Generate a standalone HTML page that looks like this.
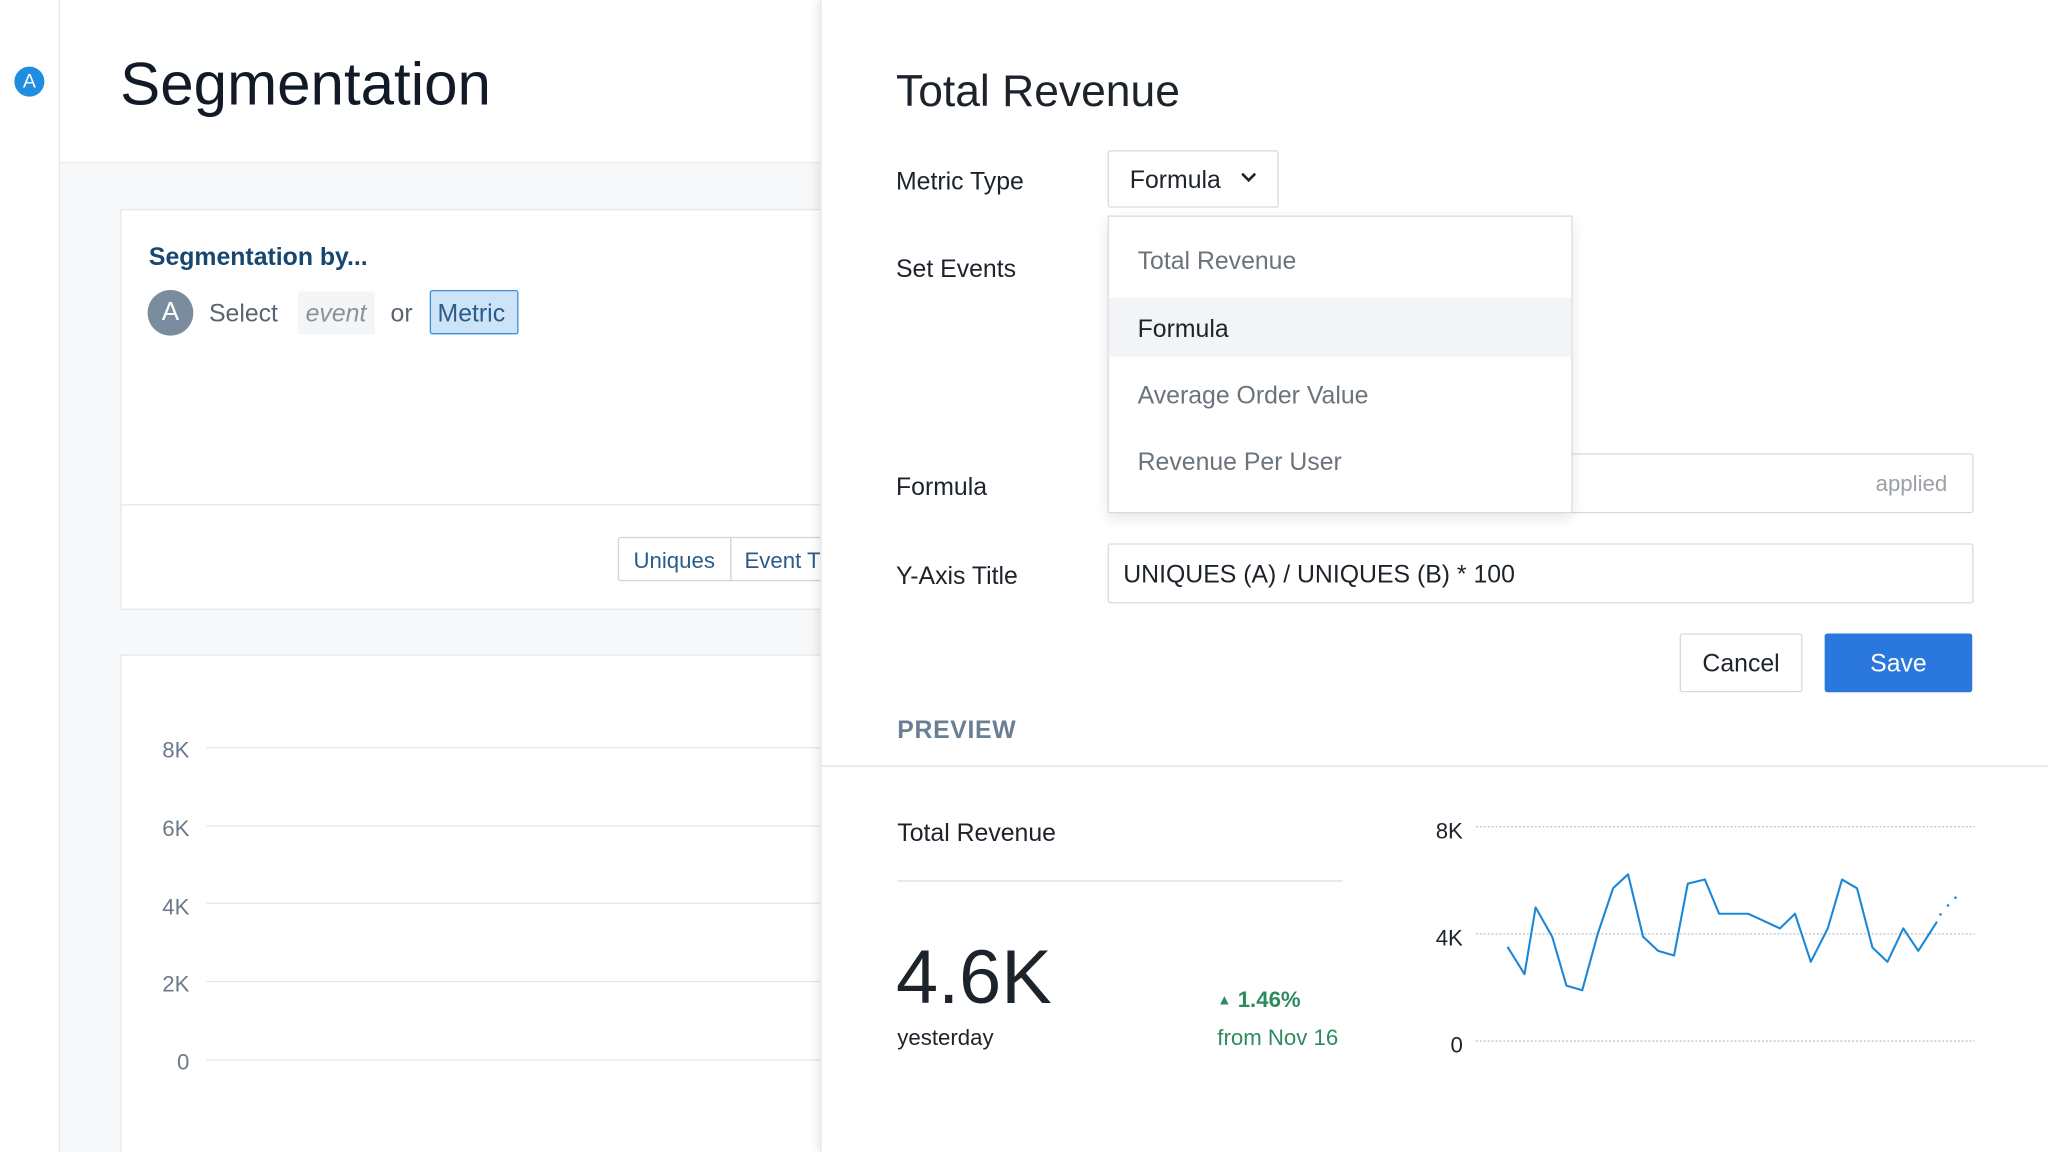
<!DOCTYPE html>
<html><head><meta charset="utf-8"><style>
html,body{margin:0;padding:0;width:2048px;height:1152px;overflow:hidden;background:#fff}
#s{position:absolute;left:0;top:0;width:1568px;height:882px;transform:scale(1.306122);transform-origin:0 0;font-family:"Liberation Sans",sans-serif;background:#f7f8f9;overflow:hidden}
.a{position:absolute;white-space:nowrap}
.t{position:absolute;white-space:nowrap;line-height:30px;height:30px;margin-top:2px}
</style></head><body><div id="s">
<div class="a" style="left:0;top:0;width:45px;height:882px;background:#fff;border-right:1px solid #e6e8eb"></div>
<div class="a" style="left:11px;top:51px;width:23px;height:23px;border-radius:50%;background:#1f8de0;color:#fff;font-size:15px;line-height:23px;text-align:center">A</div>
<div class="a" style="left:46px;top:0;width:600px;height:124px;background:#fff;border-bottom:1px solid #e9ebee"></div>
<div class="a" style="left:92px;top:36px;font-size:46px;line-height:56px;color:#111a26;font-weight:500">Segmentation</div>
<div class="a" style="left:92px;top:160px;width:560px;height:305px;background:#fff;border:1px solid #e3e6ea"></div>
<div class="a" style="left:93px;top:386px;width:560px;height:1px;background:#e3e6ea"></div>
<div class="t" style="left:114px;top:181px;font-size:19px;color:#17466e;font-weight:bold">Segmentation by...</div>
<div class="a" style="left:113px;top:222px;width:35px;height:35px;border-radius:50%;background:#7a8d9e;color:#fff;font-size:20px;line-height:35px;text-align:center">A</div>
<div class="t" style="left:160px;top:224px;font-size:19px;color:#5a6470">Select</div>
<div class="a" style="left:228px;top:223px;width:59px;height:33px;background:#f4f5f6;border-radius:2px"></div>
<div class="t" style="left:234px;top:224px;font-size:19px;color:#8a929a;font-style:italic">event</div>
<div class="t" style="left:299px;top:224px;font-size:19px;color:#5a6470">or</div>
<div class="a" style="left:329px;top:222px;width:66px;height:32px;background:#cde3f7;border:1.5px solid #3a90dc;border-radius:2px"></div>
<div class="t" style="left:335px;top:224px;font-size:19px;color:#2a5c8a">Metric</div>
<div class="a" style="left:473px;top:411px;width:160px;height:32px;border:1px solid #cfd5db;border-radius:2px;background:#fff"></div>
<div class="a" style="left:559px;top:411px;width:1px;height:34px;background:#cfd5db"></div>
<div class="t" style="left:485px;top:413px;font-size:17px;color:#2a5c8a">Uniques</div>
<div class="t" style="left:570px;top:413px;font-size:17px;color:#2a5c8a">Event T</div>
<div class="a" style="left:92px;top:501px;width:560px;height:400px;background:#fff;border:1px solid #e3e6ea"></div>
<div class="a" style="left:100px;top:560px;width:45px;font-size:17px;line-height:30px;color:#6b7a89;text-align:right">8K</div>
<div class="a" style="left:100px;top:620px;width:45px;font-size:17px;line-height:30px;color:#6b7a89;text-align:right">6K</div>
<div class="a" style="left:100px;top:680px;width:45px;font-size:17px;line-height:30px;color:#6b7a89;text-align:right">4K</div>
<div class="a" style="left:100px;top:739px;width:45px;font-size:17px;line-height:30px;color:#6b7a89;text-align:right">2K</div>
<div class="a" style="left:100px;top:799px;width:45px;font-size:17px;line-height:30px;color:#6b7a89;text-align:right">0</div>
<div class="a" style="left:158px;top:572px;width:480px;height:1px;background:#e3e7eb"></div>
<div class="a" style="left:158px;top:632px;width:480px;height:1px;background:#e3e7eb"></div>
<div class="a" style="left:158px;top:691px;width:480px;height:1px;background:#e3e7eb"></div>
<div class="a" style="left:158px;top:751px;width:480px;height:1px;background:#e3e7eb"></div>
<div class="a" style="left:158px;top:811px;width:480px;height:1px;background:#e3e7eb"></div>
<div class="a" style="left:628px;top:0;width:940px;height:882px;background:#fff;box-shadow:-3px 0 6px rgba(0,0,0,0.08);border-left:1px solid #e1e4e8"></div>
<div class="a" style="left:686px;top:49px;font-size:34px;line-height:42px;color:#1d232b;font-weight:500">Total Revenue</div>
<div class="t" style="left:686px;top:123px;font-size:19px;color:#1d232b">Metric Type</div>
<div class="t" style="left:686px;top:190px;font-size:19px;color:#1d232b">Set Events</div>
<div class="t" style="left:686px;top:357px;font-size:19px;color:#1d232b">Formula</div>
<div class="t" style="left:686px;top:425px;font-size:19px;color:#1d232b">Y-Axis Title</div>
<div class="a" style="left:848px;top:115px;width:129px;height:42px;border:1px solid #d6dade;border-radius:2px;background:#fff"></div>
<div class="t" style="left:865px;top:122px;font-size:19px;color:#1d232b">Formula</div>
<svg class="a" style="left:949px;top:130px" width="14" height="12"><path d="M2 3 L7 8 L12 3" fill="none" stroke="#1d232b" stroke-width="2"/></svg>
<div class="a" style="left:848px;top:347px;width:661px;height:44px;border:1px solid #d6dade;border-radius:2px;background:#fff"></div>
<div class="t" style="left:1436px;top:354px;font-size:17px;color:#9aa0a6">applied</div>
<div class="a" style="left:848px;top:165px;width:354px;height:226px;border:1px solid #d9dde1;background:#fff;box-shadow:0 4px 10px rgba(0,0,0,0.10)"></div>
<div class="a" style="left:849px;top:228px;width:354px;height:45px;background:#f3f4f5"></div>
<div class="t" style="left:871px;top:184px;font-size:19px;color:#6b737c">Total Revenue</div>
<div class="t" style="left:871px;top:236px;font-size:19px;color:#1d232b">Formula</div>
<div class="t" style="left:871px;top:287px;font-size:19px;color:#6b737c">Average Order Value</div>
<div class="t" style="left:871px;top:338px;font-size:19px;color:#6b737c">Revenue Per User</div>
<div class="a" style="left:848px;top:416px;width:661px;height:44px;border:1px solid #d6dade;border-radius:2px;background:#fff"></div>
<div class="t" style="left:860px;top:424px;font-size:19px;color:#1d232b">UNIQUES (A) / UNIQUES (B) * 100</div>
<div class="a" style="left:1286px;top:485px;width:92px;height:43px;border:1px solid #d6dade;border-radius:2px;background:#fff;font-size:19px;line-height:45px;text-align:center;color:#1d232b">Cancel</div>
<div class="a" style="left:1397px;top:485px;width:113px;height:45px;border-radius:2px;background:#2a78de;font-size:19px;line-height:47px;text-align:center;color:#fff">Save</div>
<div class="t" style="left:687px;top:543px;font-size:19px;color:#6a7f94;font-weight:bold;letter-spacing:0.5px">PREVIEW</div>
<div class="a" style="left:629px;top:586px;width:940px;height:1px;background:#dde1e5"></div>
<div class="t" style="left:687px;top:622px;font-size:19px;color:#1d232b">Total Revenue</div>
<div class="a" style="left:687px;top:674px;width:341px;height:1px;background:#d9dde2"></div>
<div class="a" style="left:686px;top:717px;font-size:58px;line-height:64px;color:#1d232b;font-weight:500">4.6K</div>
<div class="t" style="left:687px;top:778px;font-size:17px;color:#1d232b">yesterday</div>
<div class="t" style="left:932px;top:749px;font-size:17px;color:#2e8b5f;font-weight:bold"><span style="font-size:11px;vertical-align:2px">▲</span> 1.46%</div>
<div class="t" style="left:932px;top:778px;font-size:17px;color:#2e8b5f">from Nov 16</div>
<div class="a" style="left:1070px;top:622px;width:50px;font-size:17px;line-height:30px;color:#1d232b;text-align:right">8K</div>
<div class="a" style="left:1070px;top:704px;width:50px;font-size:17px;line-height:30px;color:#1d232b;text-align:right">4K</div>
<div class="a" style="left:1070px;top:786px;width:50px;font-size:17px;line-height:30px;color:#1d232b;text-align:right">0</div>
<svg class="a" style="left:0;top:0" width="1568" height="882">
<g stroke="#bbbfc4" stroke-width="1" stroke-dasharray="1.5 1.5">
<line x1="1130" y1="633" x2="1512" y2="633"/><line x1="1130" y1="715" x2="1512" y2="715"/><line x1="1130" y1="797" x2="1512" y2="797"/></g>
<polyline fill="none" stroke="#1b87d6" stroke-width="1.6" stroke-linejoin="round" points="1154.2,724.9 1167.2,745.9 1175.7,694.7 1188.4,717.2 1199.3,754.6 1211.4,758.2 1223.2,715.2 1235,680.1 1246.5,669.4 1258,717.2 1269.5,728 1281.7,731.6 1292.2,676.5 1305.3,673.4 1316.2,699.6 1338.6,699.6 1362.8,710.8 1374.3,699.6 1386.4,736.4 1399.4,710.8 1410.3,673.4 1421.8,680.1 1433.6,725.4 1445.1,736.4 1457.2,710.8 1468.7,728 1483,705.7"/>
<g fill="#1b87d6"><circle cx="1485.7" cy="700.1" r="1"/><circle cx="1491.4" cy="693.2" r="1"/><circle cx="1497.2" cy="687.3" r="1"/></g>
</svg>
</div></body></html>
